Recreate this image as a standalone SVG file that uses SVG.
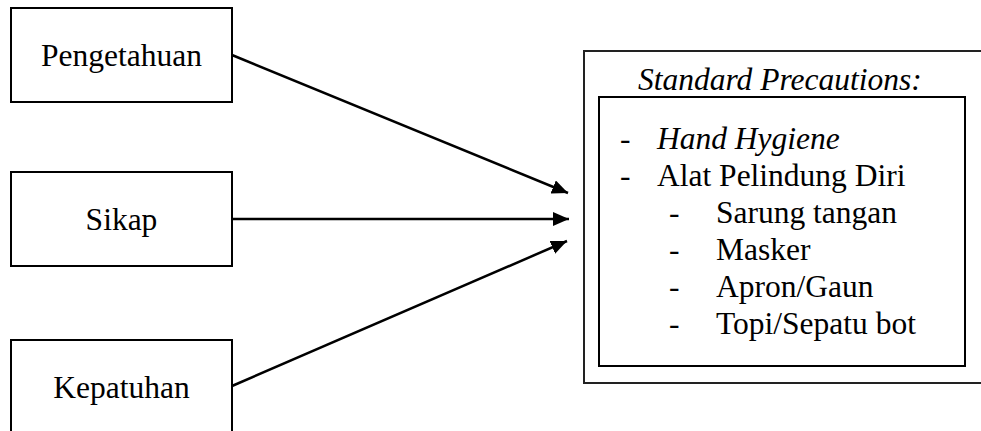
<svg xmlns="http://www.w3.org/2000/svg" width="981" height="431" viewBox="0 0 981 431">
<style>
  .box { fill: #ffffff; stroke: #000000; stroke-width: 2; }
  .outer { fill: #ffffff; stroke: #222222; stroke-width: 2; }
  .t { font-family: "Liberation Serif", "Times New Roman", serif; font-size: 31.5px; fill: #000000; }
  .i { font-style: italic; }
  .conn { stroke: #000000; stroke-width: 2.5; fill: none; marker-end: url(#arrow); }
</style>
<defs>
  <marker id="arrow" markerUnits="userSpaceOnUse" markerWidth="18" markerHeight="14" refX="16" refY="7" orient="auto">
    <path d="M0,0 L16,7 L0,14 z" fill="#000000"/>
  </marker>
</defs>
<rect width="981" height="431" fill="#ffffff"/>
<g id="node-pengetahuan">
  <rect class="box" x="11" y="8" width="221" height="94"/>
  <text class="t" x="121.5" y="66" text-anchor="middle">Pengetahuan</text>
</g>
<g id="node-sikap">
  <rect class="box" x="11" y="172" width="221" height="94"/>
  <text class="t" x="121.5" y="230" text-anchor="middle">Sikap</text>
</g>
<g id="node-kepatuhan">
  <rect class="box" x="11" y="340" width="221" height="110"/>
  <text class="t" x="121.5" y="398" text-anchor="middle">Kepatuhan</text>
</g>
<g id="node-standard-precautions">
  <path class="outer" d="M990,51 L584,51 L584,383 L990,383"/>
  <text class="t i" x="638" y="90">Standard Precautions:</text>
  <rect class="box" x="599" y="97" width="366" height="269"/>
  <text class="t" x="620" y="149">-</text>
  <text class="t i" x="657" y="149">Hand Hygiene</text>
  <text class="t" x="620" y="186">-</text>
  <text class="t" x="657" y="186">Alat Pelindung Diri</text>
  <text class="t" x="669" y="223">-</text>
  <text class="t" x="716" y="223">Sarung tangan</text>
  <text class="t" x="669" y="260">-</text>
  <text class="t" x="716" y="260">Masker</text>
  <text class="t" x="669" y="297">-</text>
  <text class="t" x="716" y="297">Apron/Gaun</text>
  <text class="t" x="669" y="334">-</text>
  <text class="t" x="716" y="334">Topi/Sepatu bot</text>
</g>
<g id="connectors">
  <line class="conn" x1="232" y1="55" x2="568" y2="193"/>
  <line class="conn" x1="232" y1="219" x2="569" y2="219"/>
  <line class="conn" x1="232" y1="386" x2="567" y2="241"/>
</g>
</svg>
